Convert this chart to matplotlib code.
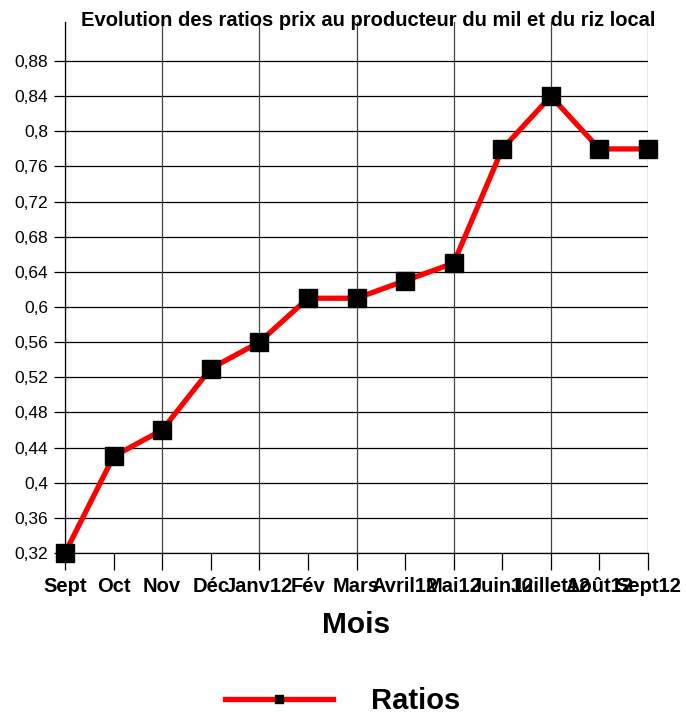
import numpy as np
import matplotlib
matplotlib.use('Agg')
import matplotlib.pyplot as plt
from matplotlib.lines import Line2D

plt.rcParams['font.family'] = ['Liberation Sans', 'DejaVu Sans']

mois = ["Sept", "Oct", "Nov", "Déc", "Janv12", "Fév", "Mars", "Avril12",
        "Mai12", "Juin12", "Juillet12", "Août12", "Sept12"]
ratios = [0.32, 0.43, 0.46, 0.53, 0.56, 0.61, 0.61, 0.63, 0.65, 0.78, 0.84, 0.78, 0.78]
y_ticks = [0.32, 0.36, 0.40, 0.44, 0.48, 0.52, 0.56, 0.60, 0.64, 0.68, 0.72, 0.76, 0.80, 0.84, 0.88]


def fmt(v):
    s = f"{v:.2f}".rstrip('0').rstrip('.')
    return s.replace('.', ',')


fig = plt.figure(figsize=(6.86, 7.15), dpi=100)
ax = fig.add_axes([65 / 686, 1 - 553 / 715, (648 - 65) / 686, (553 - 22) / 715])

x = np.arange(len(mois))
ax.plot(x, ratios, color='red', lw=3.8, marker='s', markersize=13,
        markerfacecolor='black', markeredgecolor='black', zorder=5, clip_on=False)

ax.set_xlim(0, len(mois) - 1)
ax.set_ylim(0.32, 0.9245)
ax.set_yticks(y_ticks)
ax.set_yticklabels([fmt(v) for v in y_ticks], fontsize=12.5)
ax.set_xticks(x)
ax.set_xticklabels(mois, fontsize=14.5, fontweight='bold')

# horizontal grid on every tick, vertical grid every other month
for v in y_ticks:
    ax.axhline(v, color='black', lw=0.9, zorder=1)
for xi in x[::2]:
    ax.axvline(xi, color='#444444', lw=0.9, zorder=1)

ax.tick_params(axis='y', direction='out', length=8, width=0.9, pad=4)
ax.tick_params(axis='x', direction='out', length=12, width=0.9, pad=5)

for side in ['top', 'right']:
    ax.spines[side].set_visible(False)
ax.spines['left'].set_linewidth(0.9)
ax.spines['bottom'].set_linewidth(0.9)

ax.set_xlabel("Mois", fontsize=21.5, fontweight='bold', labelpad=11)
fig.text(368 / 686, 1 - 20 / 715, "Evolution des ratios prix au producteur du mil et du riz local",
         ha='center', va='center', fontsize=14.5, fontweight='bold')

handle = Line2D([], [], color='red', lw=3.8, marker='s', markersize=6,
                markerfacecolor='black', markeredgecolor='black')
fig.legend([handle], ["Ratios"], loc='center', bbox_to_anchor=(0.5, 1 - 701 / 715),
           frameon=False, handlelength=3.7, handletextpad=1.3,
           prop={'size': 21, 'weight': 'bold'})

fig.savefig('out.png', dpi=100)
